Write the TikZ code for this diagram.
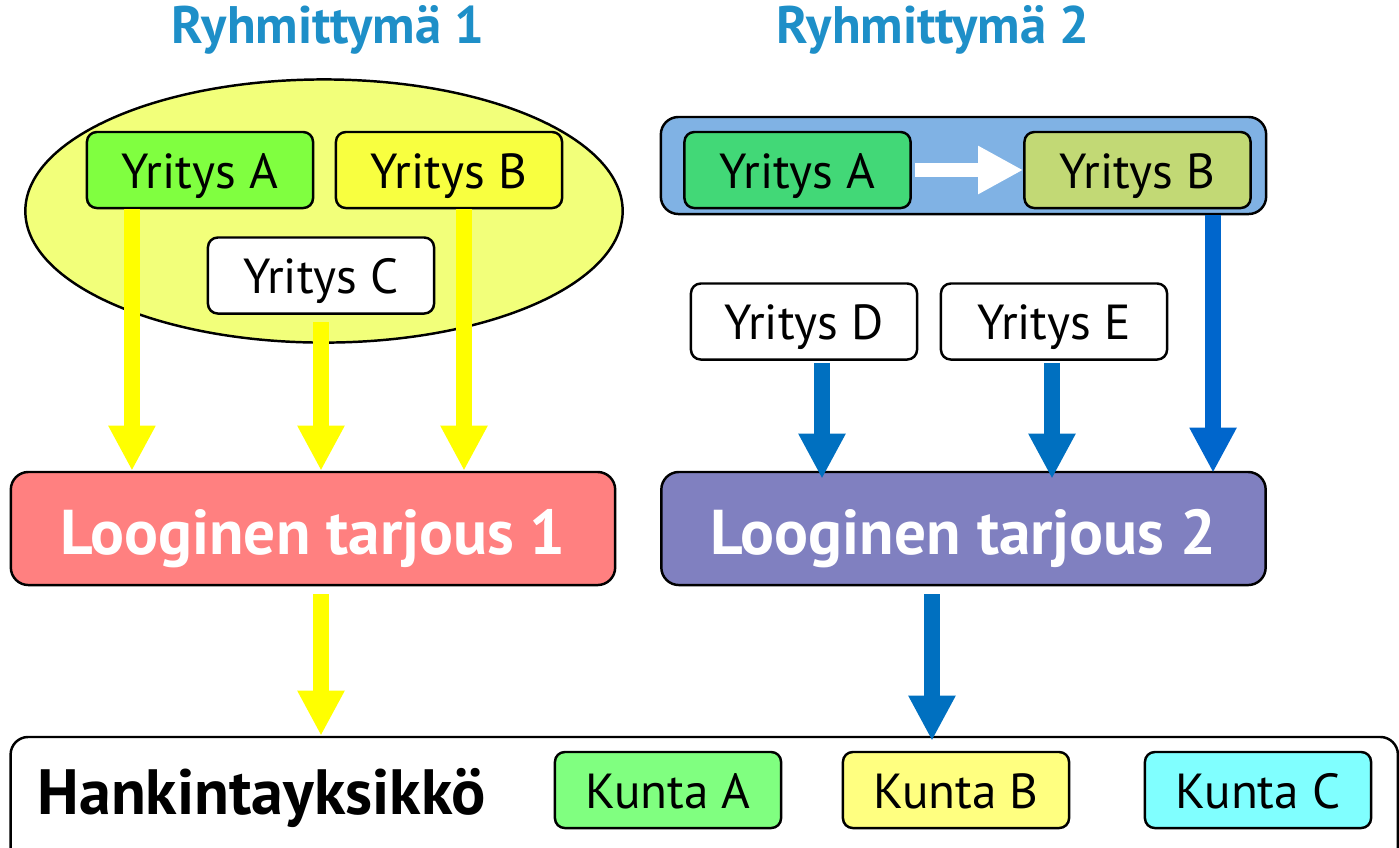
\documentclass[tikz,border=0pt]{standalone}
\usepackage{fontspec}
\setmainfont{PT Sans}
\usetikzlibrary{arrows.meta,shapes.geometric,calc}
\definecolor{titleblue}{HTML}{1E8FC8}
\definecolor{ellfill}{HTML}{F2FF7A}
\definecolor{gA}{HTML}{80FF40}
\definecolor{yB}{HTML}{F8FF40}
\definecolor{grpblue}{HTML}{80B2E4}
\definecolor{gA2}{HTML}{42D877}
\definecolor{gB2}{HTML}{C2D975}
\definecolor{ltred}{HTML}{FF8080}
\definecolor{ltblue}{HTML}{8080C0}
\definecolor{arrblue}{HTML}{0070C0}
\definecolor{arrblue2}{HTML}{0066CC}
\definecolor{arryel}{HTML}{FFFF00}
\definecolor{kA}{HTML}{80FF80}
\definecolor{kB}{HTML}{FFFF80}
\definecolor{kC}{HTML}{80FFFF}
\tikzset{
  firm/.style={draw=black, line width=0.7pt, rounded corners=2.8pt, minimum width=2.26cm, minimum height=0.76cm, inner sep=0pt, text height=10.5pt, text depth=0pt, font=\fontsize{14pt}{16pt}\selectfont},
  offer/.style={draw=black, line width=0.7pt, rounded corners=5pt, minimum width=6.04cm, minimum height=1.13cm, inner sep=0pt, text height=14.9pt, text depth=0pt, text=white, font=\fontsize{18pt}{22pt}\selectfont\bfseries},
  title/.style={text=titleblue, font=\fontsize{15pt}{18pt}\selectfont\bfseries},
  yarr/.style={draw=arryel, line width=4.3pt, -{Triangle[width=12.5pt,length=12.8pt]}, arryel},
  barr/.style={draw=arrblue, line width=4.3pt, -{Triangle[width=12.5pt,length=12.8pt]}, arrblue},
  warr/.style={draw=white, line width=4.2pt, -{Triangle[width=12.8pt,length=12.8pt]}, white},
}
\begin{document}
\begin{tikzpicture}[x=0.01cm,y=-0.01cm]
\useasboundingbox (0,0) rectangle (1399,847);
% titles
\node[title] (t1) at (328,30) {Ryhmittymä 1};
\node[title] (t2) at (933,30) {Ryhmittymä 2};
% group 1
\node[ellipse, draw=black, line width=0.7pt, fill=ellfill, minimum width=5.97cm, minimum height=2.63cm, inner sep=0pt] (ell) at (324,211) {};
\node[firm, fill=gA] (yA) at (200,170) {Yritys A};
\node[firm, fill=yB] (yB) at (449,170) {Yritys B};
\node[firm, fill=white] (yC) at (321,275.5) {Yritys C};
% group 2
\node[draw=black, line width=0.7pt, rounded corners=5pt, fill=grpblue, minimum width=6.05cm, minimum height=0.97cm, inner sep=0pt] (grp) at (963.5,165.5) {};
\node[firm, fill=gA2] (yA2) at (797.5,170) {Yritys A};
\node[firm, fill=gB2] (yB2) at (1137.5,170) {Yritys B};
\node[firm, fill=white] (yD) at (804,321.5) {Yritys D};
\node[firm, fill=white] (yE) at (1054,321.5) {Yritys E};
% offers
\node[offer, fill=ltred] (lt1) at (313,528.5) {Looginen tarjous 1};
\node[offer, fill=ltblue] (lt2) at (963.5,528.5) {Looginen tarjous 2};
% procurement unit
\node[draw=black, line width=0.7pt, rounded corners=5pt, fill=white, minimum width=13.865cm, minimum height=1.33cm, inner sep=0pt] (hy) at (704.25,803.5) {};
\node[anchor=base west, font=\fontsize{18.2pt}{22pt}\selectfont\bfseries, inner sep=0pt] (hyt) at (37,814) {Hankintayksikkö};
\node[firm, fill=kA] (kA) at (668,790) {Kunta A};
\node[firm, fill=kB] (kB) at (956,790) {Kunta B};
\node[firm, fill=kC] (kC) at (1258,790) {Kunta C};
% arrows group 1
\draw[yarr] ([xshift=-0.68cm]yA.south) -- ([xshift=-0.68cm]yA.south |- lt1.north);
\draw[yarr] ([yshift=-0.07cm]yC.south) -- (yC.south |- lt1.north);
\draw[yarr] ([xshift=0.15cm]yB.south) -- ([xshift=0.15cm]yB.south |- lt1.north);
\draw[yarr] ([yshift=-0.08cm]lt1.south -| yC.south) -- (yC.south |- hy.north);
% arrows group 2
\draw[warr] ([xshift=0.03cm]yA2.east) -- (yB2.west);
\draw[barr, draw=arrblue2, arrblue2] ([xshift=0.755cm]yB2.south |- grp.south) -- ([xshift=0.755cm,yshift=-0.02cm]yB2.south |- lt2.north);
\draw[barr] ([xshift=0.18cm,yshift=-0.02cm]yD.south) -- ([xshift=0.18cm,yshift=-0.08cm]yD.south |- lt2.north);
\draw[barr] ([xshift=-0.02cm,yshift=-0.02cm]yE.south) -- ([xshift=-0.02cm,yshift=-0.08cm]yE.south |- lt2.north);
\coordinate (l2x) at ([xshift=-0.315cm]lt2.south);
\draw[barr] ([yshift=-0.08cm]l2x) -- ([yshift=-0.05cm]l2x |- hy.north);
\end{tikzpicture}
\end{document}
